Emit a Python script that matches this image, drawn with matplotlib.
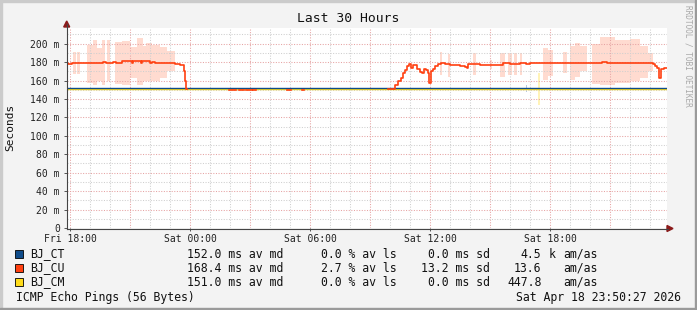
import numpy as np
import matplotlib.pyplot as plt
from matplotlib.lines import Line2D
from matplotlib.patches import Rectangle, Polygon

# Tiempo en horas desde Vie 18:00 (el grafico va de Vie 17:50 a Sab 23:50)
t_inicio = -1 / 6
t_fin = 29 + 5 / 6

# Etiquetas del eje x
etiquetas_x = ['Fri 18:00', 'Sat 00:00', 'Sat 06:00', 'Sat 12:00', 'Sat 18:00']
horas_etiquetas = [0, 6, 12, 18, 24]

# Valores del eje y (ms)
valores_y = [0, 20, 40, 60, 80, 100, 120, 140, 160, 180, 200]
etiquetas_y = ['0'] + [f'{v} m' for v in valores_y[1:]]

# Lineas planas de BJ_CT y BJ_CM (ms)
ct_ms = 152.0
cm_ms = 151.0

# Mediana de BJ_CU: horas y ms (nan = sin dato)
cu_horas = [-0.17, -0.10, 0.10, 1.65, 1.80, 2.15, 2.30, 2.60, 3.10, 3.15, 3.55, 3.60,
            4.00, 4.10, 4.25, 4.85, 5.05, 5.25, 5.50, 5.70, 5.75, 5.80, 5.85,
            7.95, 8.30, 8.45, 8.70, 8.80, 9.10, 9.15, 9.30, 10.85, 11.05, 11.60, 11.70,
            15.90, 16.25, 16.40, 16.55, 16.65, 16.75, 16.85, 16.95, 17.05, 17.15, 17.35,
            17.50, 17.60, 17.70, 17.80, 17.90, 17.95, 18.03, 18.15, 18.25, 18.40, 18.55,
            18.75, 19.00, 19.25, 19.50, 19.75, 19.83, 19.90, 20.50, 20.75, 21.65, 22.00,
            22.50, 22.80, 23.00, 23.75, 26.60, 26.85, 29.00, 29.15, 29.25, 29.35, 29.45,
            29.55, 29.70, 29.84]
cu_ms = [179.0, 178.0, 179.5, 180.5, 179.5, 180.3, 179.5, 180.7, 179.5, 180.7, 179.5, 180.7,
         179.5, 180.5, 179.5, 179.2, 178.5, 178.0, 176.5, 170.0, 159.0, 150.7, np.nan,
         150.0, np.nan, 150.0, np.nan, 150.0, np.nan, 150.0, np.nan, 150.0, np.nan, 150.0, np.nan,
         150.5, 155.4, 159.0, 163.0, 168.0, 171.7, 176.0, 178.0, 173.6, 176.4, 172.5,
         169.0, 168.0, 172.5, 171.7, 168.0, 157.0, 170.0, 172.0, 176.0, 178.0, 179.0,
         177.5, 177.0, 176.4, 175.4, 175.0, 173.6, 177.5, 176.8, 177.0, 179.0, 178.2,
         178.5, 178.0, 178.7, 179.0, 180.5, 179.0, 178.7, 177.5, 176.0, 173.5, 162.7,
         172.0, 173.6, 173.6]

# Humo de BJ_CU: inicio, fin (horas), minimo y maximo (ms)
humo_ini = [0.15, 0.35, 0.85, 1.15, 1.35, 1.60, 1.85, 2.25, 2.60, 3.00, 3.35, 3.65,
            3.80, 4.10, 4.50, 4.85,
            18.50, 18.90, 20.15, 21.00, 21.50, 21.90, 22.20, 22.50, 23.65, 23.90,
            24.65, 25.00, 25.25, 25.50, 26.10, 26.50, 27.25, 28.00, 28.50, 28.90]
humo_fin = [0.30, 0.50, 1.15, 1.35, 1.60, 1.75, 2.00, 2.60, 3.00, 3.35, 3.65, 3.80,
            4.10, 4.50, 4.85, 5.25,
            18.60, 19.00, 20.30, 21.10, 21.75, 22.10, 22.35, 22.60, 23.90, 24.15,
            24.85, 25.25, 25.50, 25.85, 26.50, 27.25, 28.00, 28.50, 28.90, 29.15]
humo_min = [167, 167, 157, 155, 160, 155, 160, 156, 155, 163, 155, 160,
            160, 160, 163, 170,
            166, 164, 166, 172, 164, 166, 166, 166, 161, 165,
            168, 161, 164, 170, 156, 155, 157, 160, 163, 170]
humo_max = [191, 191, 199, 204, 195, 204, 204, 202, 203, 196, 206, 198,
            201, 199, 196, 192,
            191, 189, 190, 182, 190, 190, 190, 190, 195, 193,
            191, 197, 201, 197, 200, 207, 204, 205, 197, 190]

# Humo pequeno de BJ_CT y BJ_CM
humo_ct = (22.80, 22.87, 148, 155)
humo_cm = (23.42, 23.50, 133, 168)

# Leyenda
nombres = ['BJ_CT', 'BJ_CU', 'BJ_CM']
colores = ['#0f4c8a', '#ff4010', '#ffdc1a']
textos_md = ['152.0 ms av md', '168.4 ms av md', '151.0 ms av md']
textos_ls = ['0.0 % av ls', '2.7 % av ls', '0.0 % av ls']
textos_sd = ['0.0 ms sd', '13.2 ms sd', '0.0 ms sd']
am_as = ['4.5', '13.6', '447.8']
unidades_am = ['k', '', '']

W, H = 697, 310
fuente = 'DejaVu Sans Mono'
fig = plt.figure(figsize=(W / 100, H / 100), dpi=100, facecolor='#f3f3f3')


def fx(px):
    return px / W


def fy(py):
    return 1 - py / H


ax = fig.add_axes([fx(66.7), fy(228), 600 / W, 200 / H])
ax.set_facecolor('white')
ax.set_xlim(t_inicio, t_fin)
ax.set_ylim(0, 217)

# Rejilla: gris cada hora / 10 ms, roja cada 3 horas / 20 ms
for h in range(0, 30):
    c = '#e6a3a3' if h % 3 == 0 else '#cfcfcf'
    ax.axvline(h, color=c, lw=0.75, ls=(0, (1, 1.5)), zorder=2)
for v in range(10, 217, 10):
    c = '#e6a3a3' if v % 20 == 0 else '#cfcfcf'
    ax.axhline(v, color=c, lw=0.75, ls=(0, (1, 1.5)), zorder=2)

# Humo
ax.bar(humo_ini, np.array(humo_max) - np.array(humo_min), bottom=humo_min,
       width=np.array(humo_fin) - np.array(humo_ini), align='edge',
       color='#ffdbd0', lw=0, zorder=1)
ax.bar(humo_ct[0], humo_ct[3] - humo_ct[2], bottom=humo_ct[2], width=humo_ct[1] - humo_ct[0],
       align='edge', color='#b8c8e0', lw=0, zorder=1)
ax.bar(humo_cm[0], humo_cm[3] - humo_cm[2], bottom=humo_cm[2], width=humo_cm[1] - humo_cm[0],
       align='edge', color='#fff3b8', lw=0, zorder=1)

# Lineas
ax.plot([t_inicio, t_fin], [cm_ms, cm_ms], color=colores[2], lw=1.0, zorder=3)
ax.plot([t_inicio, t_fin], [ct_ms, ct_ms], color=colores[0], lw=1.0, zorder=4)
ax.plot(cu_horas, cu_ms, color=colores[1], lw=1.2, drawstyle='steps-post', zorder=5)

# Ejes
for s in ax.spines.values():
    s.set_visible(False)
ax.set_xticks(horas_etiquetas)
ax.set_xticklabels(etiquetas_x)
ax.set_yticks(valores_y)
ax.set_yticklabels(etiquetas_y)
ax.tick_params(axis='both', labelsize=7, colors='#555555', labelcolor='#222222',
               length=2, width=0.7)
ax.tick_params(axis='y', pad=3)
ax.tick_params(axis='x', pad=2.5)
for lab in ax.get_xticklabels() + ax.get_yticklabels():
    lab.set_family(fuente)

# Lineas de eje y flechas
fig.add_artist(Line2D([fx(66.7), fx(66.7)], [fy(228.5), fy(24)], color='#444444', lw=0.8))
fig.add_artist(Line2D([fx(66.7), fx(668)], [fy(228.5), fy(228.5)], color='#444444', lw=0.8))
fig.add_artist(Polygon([[fx(63.7), fy(27)], [fx(69.7), fy(27)], [fx(66.7), fy(21)]],
                       closed=True, color='#8b1a1a', transform=fig.transFigure))
fig.add_artist(Polygon([[fx(667), fy(225.5)], [fx(667), fy(231.5)], [fx(673), fy(228.5)]],
                       closed=True, color='#8b1a1a', transform=fig.transFigure))

# Titulo, etiqueta y marca de agua
fig.text(fx(348), fy(19), 'Last 30 Hours', family=fuente, fontsize=9.4,
         ha='center', va='center', color='#111111')
fig.text(fx(10), fy(127), 'Seconds', family=fuente, fontsize=8, rotation=90,
         ha='center', va='center', color='#111111')
fig.text(fx(688), fy(5), 'RRDTOOL / TOBI OETIKER', family=fuente, fontsize=5.6,
         rotation=-90, ha='center', va='top', color='#a8a8a8')

# Leyenda
filas_y = [254, 268, 282]
for i in range(3):
    y = filas_y[i]
    fig.add_artist(Rectangle((fx(15), fy(y + 4)), 8 / W, 8 / H, facecolor=colores[i],
                             edgecolor='black', lw=0.6, transform=fig.transFigure))
    kw = dict(family=fuente, fontsize=8.3, va='center', color='#111111')
    fig.text(fx(30), fy(y), nombres[i], ha='left', **kw)
    fig.text(fx(283), fy(y), textos_md[i], ha='right', **kw)
    fig.text(fx(397), fy(y), textos_ls[i], ha='right', **kw)
    fig.text(fx(490), fy(y), textos_sd[i], ha='right', **kw)
    fig.text(fx(541.5), fy(y), am_as[i], ha='right', **kw)
    fig.text(fx(549), fy(y), unidades_am[i], ha='left', **kw)
    fig.text(fx(563), fy(y), 'am/as', ha='left', **kw)

fig.text(fx(16), fy(297), 'ICMP Echo Pings (56 Bytes)', family=fuente, fontsize=8.3,
         ha='left', va='center', color='#111111')
fig.text(fx(681), fy(297), 'Sat Apr 18 23:50:27 2026', family=fuente, fontsize=8.3,
         ha='right', va='center', color='#111111')

# Borde de la imagen
fig.add_artist(Rectangle((0, fy(2)), 1, 2 / H, color='#cbcbcb', transform=fig.transFigure))
fig.add_artist(Rectangle((0, 0), 2 / W, 1, color='#cbcbcb', transform=fig.transFigure))
fig.add_artist(Rectangle((0, 0), 1, 2 / H, color='#9a9a9a', transform=fig.transFigure))
fig.add_artist(Rectangle((fx(695), 0), 2 / W, 1, color='#9a9a9a', transform=fig.transFigure))

fig.savefig('out.png', dpi=100, facecolor=fig.get_facecolor())
